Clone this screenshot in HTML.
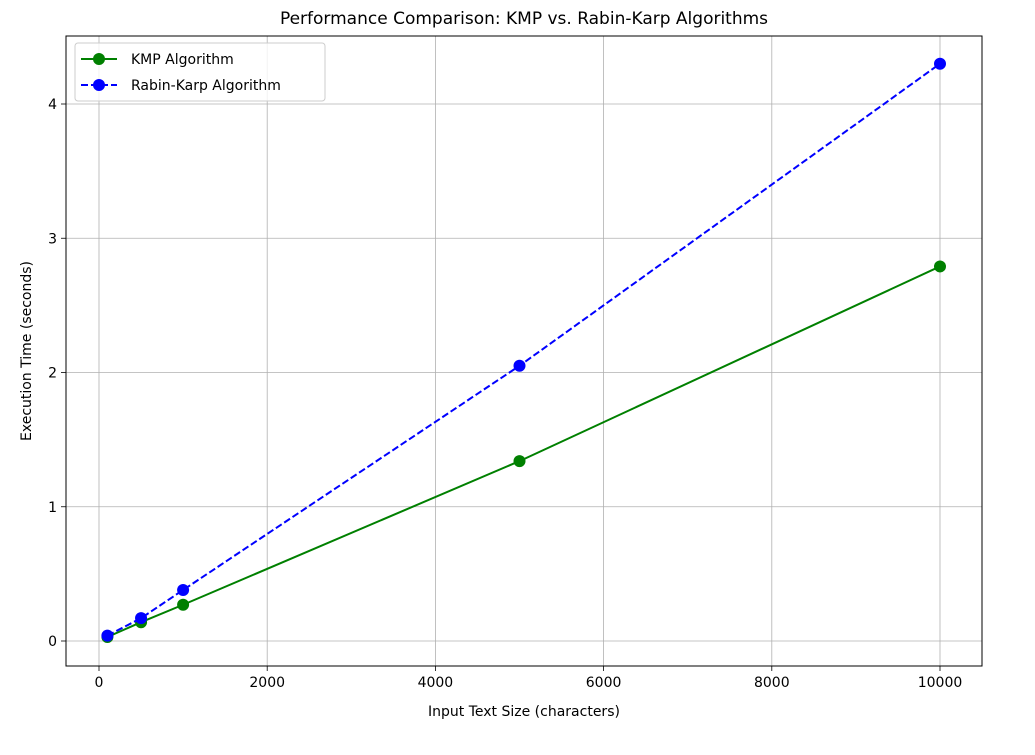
<!DOCTYPE html>
<html><head><meta charset="utf-8"><style>
body{margin:0;background:#fff;font-family:"Liberation Sans","DejaVu Sans",sans-serif;}
svg text{font-family:"DejaVu Sans","Liberation Sans",sans-serif;}
</style></head><body>
<svg id="chart" width="1035" height="750" xmlns="http://www.w3.org/2000/svg"></svg>
<script>
const xValues = [100, 500, 1000, 5000, 10000];
const kmpTimes = [0.03, 0.14, 0.27, 1.34, 2.79];
const rkTimes = [0.04, 0.17, 0.38, 2.05, 4.30];
const xTicks = [0, 2000, 4000, 6000, 8000, 10000];
const yTicks = [0, 1, 2, 3, 4];

const L=66,R=982,T=36,B=666;
const xs=v=>99+(v/10000)*(940-99);
const ys=v=>641-v*(641-104)/4;
const NS='http://www.w3.org/2000/svg';
const svg=document.getElementById('chart');
function mk(tag,attrs,parent){const e=document.createElementNS(NS,tag);for(const k in attrs)e.setAttribute(k,attrs[k]);(parent||svg).appendChild(e);return e;}

// grid & ticks
xTicks.forEach(t=>{
  const g=mk('line',{x1:xs(t),x2:xs(t),y1:T,y2:B,stroke:'#b0b0b0','stroke-width':0.8});
  
  
  mk('line',{x1:xs(t),x2:xs(t),y1:B,y2:B+5,stroke:'#000','stroke-width':0.8});
  const tx=mk('text',{x:xs(t),y:B+21,'text-anchor':'middle','font-size':14,fill:'#000'});
  tx.textContent=t;
  
  
});
yTicks.forEach(t=>{
  const g=mk('line',{x1:L,x2:R,y1:ys(t),y2:ys(t),stroke:'#b0b0b0','stroke-width':0.8});
  
  
  mk('line',{x1:L-5,x2:L,y1:ys(t),y2:ys(t),stroke:'#000','stroke-width':0.8});
  const tx=mk('text',{x:L-9,y:ys(t)+5,'text-anchor':'end','font-size':14,fill:'#000'});
  tx.textContent=t;
  
  
});

function series(vals,color,dash,name){
  const pts=xValues.map((x,i)=>xs(x)+','+ys(vals[i])).join(' ');
  const pl=mk('polyline',{points:pts,fill:'none',stroke:color,'stroke-width':2,'stroke-dasharray':dash||'none'});
  
  
  xValues.forEach((x,i)=>{
    const c=mk('circle',{cx:xs(x),cy:ys(vals[i]),r:6,fill:color});
    
    
  });
}
series(kmpTimes,'#008000',null,'kmp');
series(rkTimes,'#0000ff','7,3','rabin-karp');

const frame=mk('rect',{x:L,y:T,width:R-L,height:B-T,fill:'none',stroke:'#000','stroke-width':1});



// legend
const lg=mk('g',{});


mk('rect',{x:75,y:43,width:250,height:58,rx:3,fill:'#fff','fill-opacity':0.8,stroke:'#ccc'},lg);
mk('line',{x1:81,x2:117,y1:59,y2:59,stroke:'#008000','stroke-width':2},lg);
mk('circle',{cx:99,cy:59,r:6,fill:'#008000'},lg);
const t1=mk('text',{x:131,y:64,'font-size':14},lg);t1.textContent='KMP Algorithm';


mk('line',{x1:81,x2:117,y1:85,y2:85,stroke:'#0000ff','stroke-width':2,'stroke-dasharray':'7,3'},lg);
mk('circle',{cx:99,cy:85,r:6,fill:'#0000ff'},lg);
const t2=mk('text',{x:131,y:90,'font-size':14},lg);t2.textContent='Rabin-Karp Algorithm';



// titles
const ti=mk('text',{x:(L+R)/2,y:24,'text-anchor':'middle','font-size':17});
ti.textContent='Performance Comparison: KMP vs. Rabin-Karp Algorithms';


const xt=mk('text',{x:(L+R)/2,y:716,'text-anchor':'middle','font-size':14});
xt.textContent='Input Text Size (characters)';


const yt=mk('text',{x:0,y:0,'text-anchor':'middle','font-size':14,transform:'translate(31,351) rotate(-90)'});
yt.textContent='Execution Time (seconds)';


</script>
</body></html>
